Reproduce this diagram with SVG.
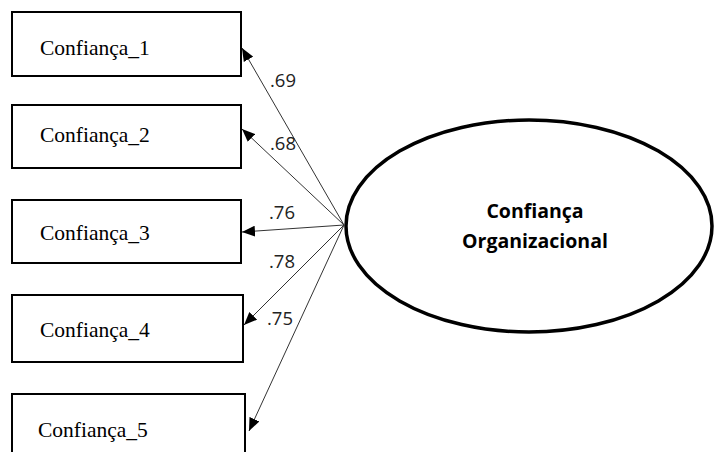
<svg xmlns="http://www.w3.org/2000/svg" width="714" height="452" viewBox="0 0 714 452">
  <style>
    .box { fill: #fff; stroke: #000; stroke-width: 2; }
    .item { font-family: "Liberation Serif", serif; font-size: 21.5px; fill: #000; }
    .edge { stroke: #333; stroke-width: 1; fill: none; marker-end: url(#arrow); }
    .coef { font-family: "Open Sans", "Liberation Sans", sans-serif; font-size: 18.5px; fill: #222; }
    .latent { fill: #fff; stroke: #000; stroke-width: 3.5; }
    .latent-text { font-family: "Open Sans", "Liberation Sans", sans-serif; font-size: 19.5px; font-weight: bold; fill: #000; text-anchor: middle; }
  </style>
  <defs>
    <marker id="arrow" viewBox="0 0 12 10" refX="12" refY="5" markerWidth="13" markerHeight="11" markerUnits="userSpaceOnUse" orient="auto">
      <path d="M0,0 L12,5 L0,10 z" fill="#000"/>
    </marker>
  </defs>
  <rect width="714" height="452" fill="#fff"/>

  <g id="connectors">
    <line class="edge" x1="344" y1="225" x2="242" y2="48"/>
    <line class="edge" x1="344" y1="225" x2="242" y2="129"/>
    <line class="edge" x1="344" y1="225" x2="242" y2="232"/>
    <line class="edge" x1="344" y1="225" x2="244" y2="325"/>
    <line class="edge" x1="344" y1="225" x2="249" y2="431"/>
    <text class="coef" x="270" y="87">.69</text>
    <text class="coef" x="270" y="150">.68</text>
    <text class="coef" x="269" y="219">.76</text>
    <text class="coef" x="269" y="268">.78</text>
    <text class="coef" x="267" y="325">.75</text>
  </g>

  <g id="confianca_1">
    <rect class="box" x="12" y="12" width="229" height="64"/>
    <text class="item" x="40" y="55">Confiança_1</text>
  </g>
  <g id="confianca_2">
    <rect class="box" x="12" y="105" width="229" height="63"/>
    <text class="item" x="40" y="142">Confiança_2</text>
  </g>
  <g id="confianca_3">
    <rect class="box" x="12" y="200" width="229" height="63"/>
    <text class="item" x="40" y="240">Confiança_3</text>
  </g>
  <g id="confianca_4">
    <rect class="box" x="12" y="295" width="231" height="67"/>
    <text class="item" x="40" y="337">Confiança_4</text>
  </g>
  <g id="confianca_5">
    <rect class="box" x="12" y="394" width="233" height="70"/>
    <text class="item" x="38" y="437">Confiança_5</text>
  </g>

  <g id="confianca_organizacional">
    <ellipse class="latent" cx="529" cy="226" rx="183" ry="106"/>
    <text class="latent-text" x="535" y="218">Confiança</text>
    <text class="latent-text" x="535" y="248">Organizacional</text>
  </g>
</svg>
